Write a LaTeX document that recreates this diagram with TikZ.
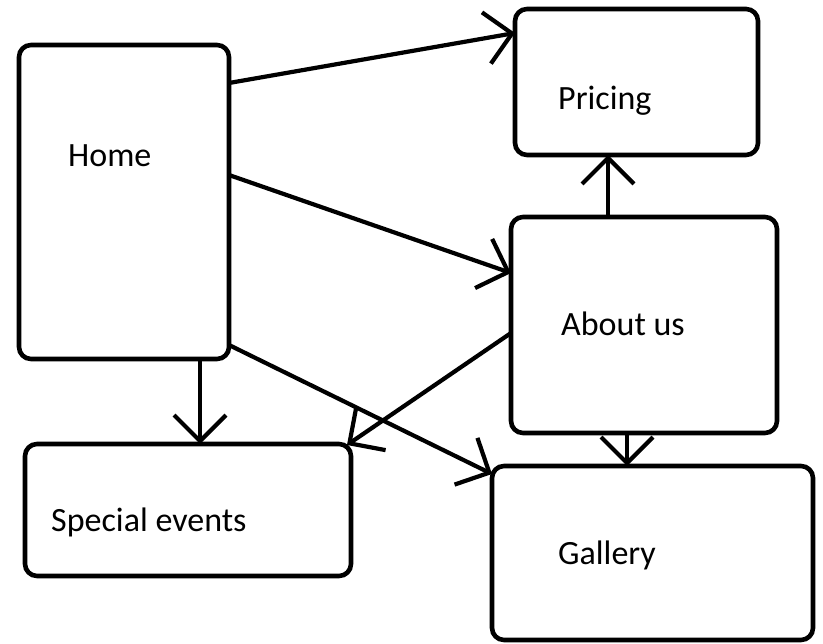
\documentclass[tikz,border=0pt]{standalone}
\usepackage{fontspec}
\setmainfont{Carlito}
\usetikzlibrary{arrows.meta,calc}
\tikzset{
  box/.style={draw=black, line width=4.6pt, rounded corners=12pt, inner sep=0pt, outer sep=0pt},
  lbl/.style={anchor=base west, inner sep=0pt, font=\fontsize{34}{40}\selectfont},
  conn/.style={draw=black, line width=4.2pt, -{Straight Barb[length=26pt,width=52pt,line width=4.2pt]}}
}
\begin{document}
\begin{tikzpicture}[x=1pt,y=-1pt]
\useasboundingbox (0,0) rectangle (823,644);
\node[box, minimum width=210pt, minimum height=314pt] (home) at (124,202) {};
\node[box, minimum width=243pt, minimum height=146pt] (pricing) at (636.5,82) {};
\node[box, minimum width=266pt, minimum height=216pt] (about) at (644,325) {};
\node[box, minimum width=326pt, minimum height=132pt] (special) at (188,510) {};
\node[box, minimum width=321pt, minimum height=174pt] (gallery) at (652.5,553) {};
\node[lbl] (homet) at (68,167) {Home};
\node[lbl] (pricingt) at (558,110) {Pricing};
\node[lbl] (aboutt) at (561,336) {About us};
\node[lbl] (specialt) at (51,532) {Special events};
\node[lbl] (galleryt) at (558,565) {Gallery};
\draw[conn] ($(home.north east)+(0,38)$) -- ($(pricing.north west)+(0,24)$);
\draw[conn] ($(home.north east)+(0,130)$) -- ($(about.north west)+(0,56)$);
\draw[conn] ($(home.north east)+(0,300)$) -- ($(gallery.north west)+(0,8)$);
\draw[conn] ($(home.south west)+(181,0)$) -- ($(special.north west)+(175,0)$);
\draw[conn] ($(about.north west)+(0,116)$) -- ($(special.north east)+(-4,1)$);
\draw[conn] ($(about.north west)+(97,0)$) -- ($(pricing.south west)+(93,0)$);
\draw[conn] ($(about.south west)+(116,0)$) -- ($(gallery.north west)+(135,0)$);
\end{tikzpicture}
\end{document}
